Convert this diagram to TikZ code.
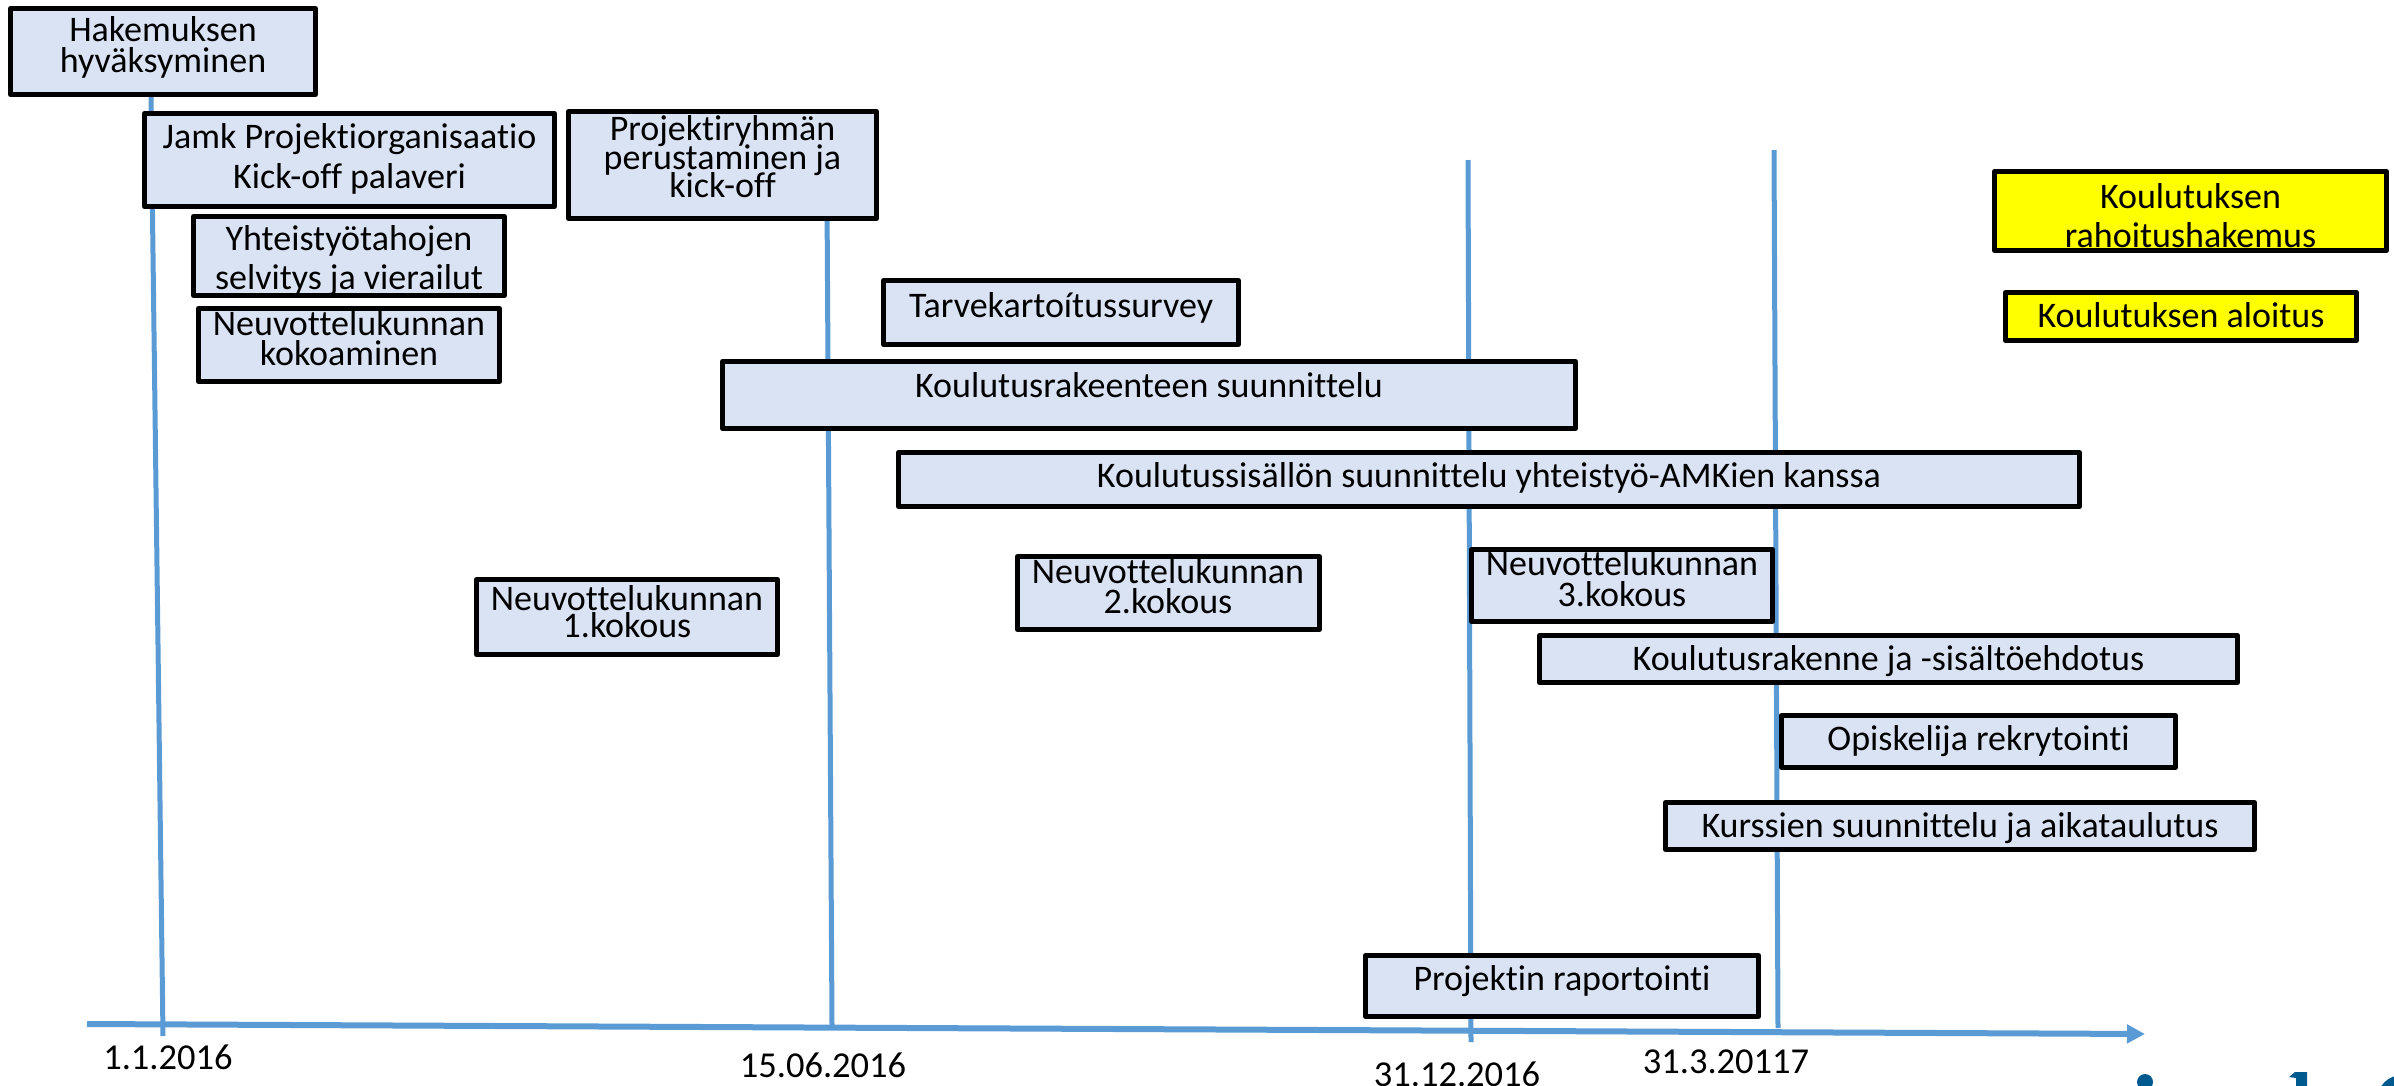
\documentclass[tikz,border=0pt]{standalone}
\usepackage{fontspec}
\setmainfont{Carlito}[Ligatures={NoCommon}]
\usetikzlibrary{arrows.meta,fit}
\definecolor{boxfill}{HTML}{DAE3F3}
\definecolor{tline}{HTML}{5B9BD5}
\definecolor{logoblue}{HTML}{005A8F}
\definecolor{yel}{HTML}{FFFF00}
\newcommand\tbox[6]{%
  \node[fit={(#2+2.5,#3+2.5) (#4-2.5,#5-2.5)}, inner sep=0pt, outer sep=0pt, fill=#6, draw=none] (#1) {};}
\newcommand\tborder[1]{\draw[boxborder] (#1.north west) rectangle (#1.south east);}
\begin{document}
\begin{tikzpicture}[x=1pt,y=-1pt,
  txt/.style={anchor=base, inner sep=0pt, outer sep=0pt, font=\fontsize{36}{40}\selectfont},
  datelbl/.style={anchor=base, inner sep=0pt, outer sep=0pt, font=\fontsize{36.5}{40}\selectfont},
  boxborder/.style={draw=black, line width=5pt, line join=round},
  vline/.style={draw=tline, line width=5pt},
  axisline/.style={draw=tline, line width=6pt, -{Triangle[length=18pt,width=18pt]}}]
\useasboundingbox (0,0) rectangle (2394,1085);
\clip (0,0) rectangle (2394,1085);
\fill[white] (0,0) rectangle (2394,1085);

% vertical time lines
\coordinate (v1t) at (151,97);   \coordinate (v1b) at (163,1036);
\coordinate (v2t) at (827,200);  \coordinate (v2b) at (832,1025);
\coordinate (v3t) at (1468,160); \coordinate (v3b) at (1471,1042);
\coordinate (v4t) at (1774,150); \coordinate (v4b) at (1778,1028);
\draw[vline] (v1t) -- (v1b);
\draw[vline] (v2t) -- (v2b);
\draw[vline] (v3t) -- (v3b);
\draw[vline] (v4t) -- (v4b);

% axis
\coordinate (ax0) at (87,1024);
\coordinate (ax1) at (2145,1034);
\draw[axisline] (ax0) -- (ax1);

% boxes (fill)
\tbox{hak}{8}{6}{318}{97}{boxfill}
\tbox{jamk}{142}{111}{557}{209}{boxfill}
\tbox{yht}{191}{214}{507}{298}{boxfill}
\tbox{neu}{196}{306}{502}{384}{boxfill}
\tbox{proj}{566}{109}{879}{221}{boxfill}
\tbox{tarve}{881}{278}{1241}{347}{boxfill}
\tbox{kra}{720}{359}{1578}{431}{boxfill}
\tbox{kss}{896}{450}{2082}{509}{boxfill}
\tbox{nka}{474}{577}{780}{657}{boxfill}
\tbox{nkb}{1015}{554}{1322}{632}{boxfill}
\tbox{nkc}{1469}{547}{1775}{624}{boxfill}
\tbox{krs}{1537}{633}{2240}{685}{boxfill}
\tbox{opis}{1779}{713}{2178}{770}{boxfill}
\tbox{kurs}{1663}{800}{2257}{852}{boxfill}
\tbox{rap}{1363}{953}{1761}{1019}{boxfill}
\tbox{yela}{1992}{169}{2389}{253}{yel}
\tbox{yelb}{2003}{290}{2359}{343}{yel}

% texts
\node[txt] (hak1) at (163,41) {Hakemuksen};
\node[txt] (hak2) at (163,72) {hyväksyminen};
\node[txt] (jamk1) at (349.5,148) {Jamk Projektiorganisaatio};
\node[txt] (jamk2) at (349.5,188) {Kick-off palaveri};
\node[txt] (yht1) at (349,250) {Yhteistyötahojen};
\node[txt] (yht2) at (349,289) {selvitys ja vierailut};
\node[txt] (neu1) at (349,335) {Neuvottelukunnan};
\node[txt] (neu2) at (349,365) {kokoaminen};
\node[txt] (proj1) at (722.5,140) {Projektiryhmän};
\node[txt] (proj2) at (722.5,169) {perustaminen ja};
\node[txt] (proj3) at (722.5,197) {kick-off};
\node[txt] (tarve1) at (1061,317) {Tarvekartoítussurvey};
\node[txt] (kra1) at (1149,397) {Koulutusrakeenteen suunnittelu};
\node[txt] (kss1) at (1489,487) {Koulutussisällön suunnittelu yhteistyö-AMKien kanssa};
\node[txt] (nka1) at (627,610) {Neuvottelukunnan};
\node[txt] (nka2) at (627,637) {1.kokous};
\node[txt] (nkb1) at (1168,583) {Neuvottelukunnan};
\node[txt] (nkb2) at (1168,613) {2.kokous};
\node[txt] (nkc1) at (1622,575) {Neuvottelukunnan};
\node[txt] (nkc2) at (1622,606) {3.kokous};
\node[txt] (krs1) at (1888.5,670) {Koulutusrakenne ja -sisältöehdotus};
\node[txt] (opis1) at (1978.5,750) {Opiskelija rekrytointi};
\node[txt] (kurs1) at (1960,837) {Kurssien suunnittelu ja aikataulutus};
\node[txt] (rap1) at (1562,990) {Projektin raportointi};
\node[txt] (yela1) at (2190.5,208) {Koulutuksen};
\node[txt] (yela2) at (2190.5,247) {rahoitushakemus};
\node[txt] (yelb1) at (2181,327) {Koulutuksen aloitus};

% borders
\tborder{hak}\tborder{jamk}\tborder{yht}\tborder{neu}\tborder{proj}
\tborder{tarve}\tborder{kra}\tborder{kss}\tborder{nka}\tborder{nkb}
\tborder{nkc}\tborder{krs}\tborder{opis}\tborder{kurs}\tborder{rap}
\tborder{yela}\tborder{yelb}

% dates
\node[datelbl] (d1) at (168,1069) {1.1.2016};
\node[datelbl] (d2) at (823,1077) {15.06.2016};
\node[datelbl] (d3) at (1457,1086) {31.12.2016};
\node[datelbl] (d4) at (1726,1073) {31.3.20117};

% partial logo shapes at the bottom edge
\fill[logoblue] (2145,1082) circle (8);
\fill[logoblue] (2289,1077) -- (2295,1072) -- (2307,1072) -- (2307,1090) -- (2296,1090) -- (2296,1078) -- cycle;
\fill[logoblue] (2402,1100) circle (25);
\end{tikzpicture}
\end{document}
